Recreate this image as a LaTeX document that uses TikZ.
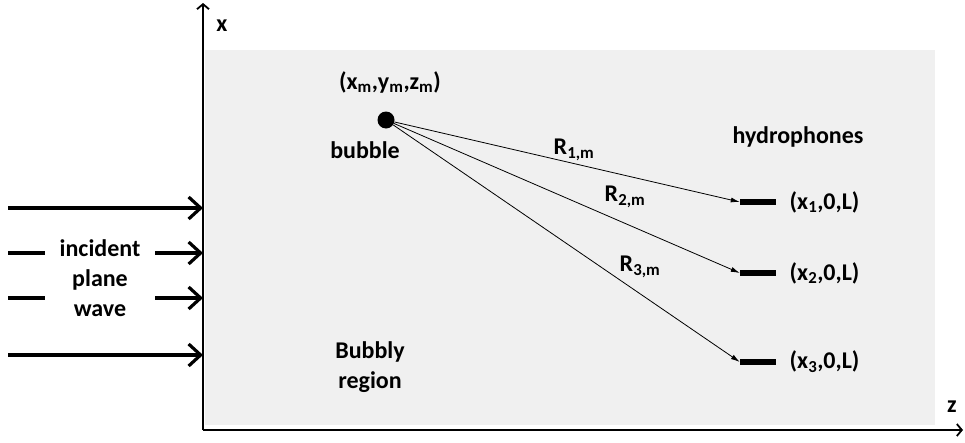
\documentclass[tikz,border=0pt]{standalone}
\usepackage{fontspec}
\setmainfont{Carlito}
\usetikzlibrary{arrows.meta, positioning}

\begin{document}
\begin{tikzpicture}[x=1pt, y=-1pt, font=\fontsize{24}{30}\selectfont\bfseries]
   \tikzstyle{hyd}=[rectangle, fill=black, minimum width=36pt, minimum height=6pt, inner sep=0pt]
   \tikzstyle{bnode}=[circle, fill=black, minimum size=17pt, inner sep=0pt]
   \tikzstyle{wave}=[line width=3.2pt, -{Straight Barb[length=12pt, width=22pt]}]
   \tikzstyle{ray}=[line width=0.8pt, -{Latex[length=9pt, width=5pt]}]
   \tikzstyle{axis}=[line width=1.8pt, -{Straight Barb[length=5pt, width=12pt]}]
   \useasboundingbox (0,0) rectangle (965,442);

   % Bubbly region
   \fill[gray!12] (205,50) rectangle (935,425);
   \draw (370,367) node[align=center] (reg) {Bubbly\\region};

   % axes
   \coordinate (o) at (203,430);
   \coordinate (xend) at (203,3);
   \coordinate (zend) at (963,430);
   \draw[axis] (o) -- (xend);
   \draw[axis] (o) -- (zend);
   \draw (222,26) node (xlab) {x};
   \draw (952,407) node (zlab) {z};

   % incident plane wave
   \coordinate (w1a) at (8,208);   \coordinate (w1b) at (203,208);
   \coordinate (w2a) at (8,253);   \coordinate (w2b) at (45,253);
   \coordinate (w2c) at (155,253); \coordinate (w2d) at (203,253);
   \coordinate (w3a) at (8,298);   \coordinate (w3b) at (45,298);
   \coordinate (w3c) at (155,298); \coordinate (w3d) at (203,298);
   \coordinate (w4a) at (8,355);   \coordinate (w4b) at (203,355);
   \draw[wave] (w1a) -- (w1b);
   \draw[line width=3.2pt] (w2a) -- (w2b);
   \draw[wave] (w2c) -- (w2d);
   \draw[line width=3.2pt] (w3a) -- (w3b);
   \draw[wave] (w3c) -- (w3d);
   \draw[wave] (w4a) -- (w4b);
   \draw (100,278) node[align=center] (inc) {incident\\plane\\wave};

   % bubble
   \draw (386,120) node[bnode] (bub) {};
   \draw (390,82) node (bpos) {(x\textsubscript{m},y\textsubscript{m},z\textsubscript{m})};
   \draw (365,150) node (blab) {bubble};

   % hydrophones
   \draw (798,137) node (hlab) {hydrophones};
   \draw (758,202) node[hyd] (h1) {};
   \draw (758,273) node[hyd] (h2) {};
   \draw (758,362) node[hyd] (h3) {};
   \node[right=10pt of h1] (p1) {(x\textsubscript{1},0,L)};
   \node[right=10pt of h2] (p2) {(x\textsubscript{2},0,L)};
   \node[right=10pt of h3] (p3) {(x\textsubscript{3},0,L)};

   % distances
   \draw[ray] (bub) -- (h1.west);
   \draw[ray] (bub) -- (h2.west);
   \draw[ray] (bub) -- (h3.west);
   \draw (574,150) node (r1) {R\textsubscript{1,m}};
   \draw (625,197) node (r2) {R\textsubscript{2,m}};
   \draw (640,267) node (r3) {R\textsubscript{3,m}};
\end{tikzpicture}
\end{document}
